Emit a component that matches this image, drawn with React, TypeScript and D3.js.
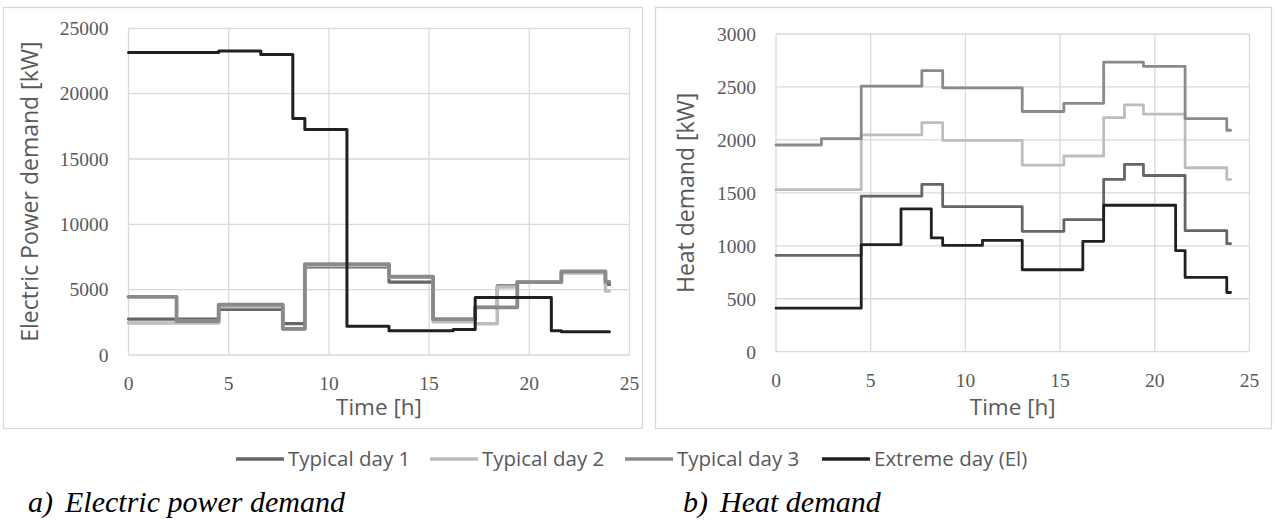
import React, { useEffect, useRef } from "react";
import * as d3 from "d3";

// step boundaries of the day profile [h]
const hours = [0, 2.4, 4.5, 6.6, 7.7, 8.2, 8.8, 10.9, 13, 15.2, 16.2, 17.3, 18.4, 19.4, 21.1, 21.6, 23.8, 24];

const seriesNames = ["Typical day 1", "Typical day 2", "Typical day 3", "Extreme day (El)"];
const seriesColors = ["#666666", "#bdbdbd", "#8a8a8a", "#202020"];

// electric power demand [kW], one value per interval
const elDay1 = [2750, 2750, 3480, 3480, 2400, 2400, 6750, 6750, 5580, 2700, 2700, 3650, 5300, 5550, 5550, 6300, 5400];
const elDay2 = [2450, 2450, 3700, 3700, 2000, 2000, 6850, 6850, 5950, 2550, 2550, 2400, 5200, 5600, 5600, 6300, 4900];
const elDay3 = [4450, 2600, 3850, 3850, 2000, 2000, 6950, 6950, 6000, 2750, 2750, 3650, 3650, 5580, 5580, 6400, 5600];
const elExtreme = [23150, 23150, 23270, 23000, 23000, 18100, 17250, 2200, 1850, 1850, 1950, 4400, 4400, 4400, 1850, 1780, 1780];

// heat demand [kW]
const heatDay1 = [910, 910, 1470, 1470, 1580, 1580, 1370, 1370, 1137, 1248, 1248, 1627, 1769, 1664, 1664, 1143, 1020];
const heatDay2 = [1530, 1530, 2047, 2047, 2164, 2164, 1996, 1996, 1762, 1848, 1848, 2211, 2331, 2243, 2243, 1737, 1627];
const heatDay3 = [1952, 2012, 2508, 2508, 2655, 2655, 2492, 2492, 2268, 2345, 2345, 2735, 2735, 2695, 2695, 2200, 2091];
const heatExtreme = [411, 411, 1011, 1349, 1349, 1074, 1004, 1052, 774, 774, 1042, 1383, 1383, 1383, 954, 701, 559];

const xTicks = [0, 5, 10, 15, 20, 25];
const elTicks = [0, 5000, 10000, 15000, 20000, 25000];
const heatTicks = [0, 500, 1000, 1500, 2000, 2500, 3000];

const gridColor = "#d9d9d9";
const textColor = "#595959";
const serif = "'Liberation Serif', 'Times New Roman', serif";
const sans = "'Open Sans', Lato, sans-serif";

function drawChart(svg, cfg) {
  const x = d3.scaleLinear().domain([0, 25]).range([cfg.x0, cfg.x1]);
  const y = d3.scaleLinear().domain([0, cfg.max]).range([cfg.yBot, cfg.yTop]);
  const g = svg.append("g");

  // grid
  g.selectAll(".hgrid")
    .data(cfg.yTicks)
    .join("line")
    .attr("x1", cfg.x0).attr("x2", cfg.x1)
    .attr("y1", d => y(d)).attr("y2", d => y(d))
    .attr("stroke", gridColor).attr("stroke-width", 1.3);
  g.selectAll(".vgrid")
    .data(xTicks)
    .join("line")
    .attr("x1", d => x(d)).attr("x2", d => x(d))
    .attr("y1", cfg.yBot).attr("y2", cfg.yTop)
    .attr("stroke", gridColor).attr("stroke-width", 1.3);

  // tick labels
  g.selectAll(".ylab")
    .data(cfg.yTicks)
    .join("text")
    .attr("x", cfg.x0 - 20)
    .attr("y", d => y(d))
    .attr("dy", "0.35em")
    .attr("text-anchor", "end")
    .attr("font-family", serif)
    .attr("font-size", 19.5)
    .attr("fill", textColor)
    .text(d => d);
  g.selectAll(".xlab")
    .data(xTicks)
    .join("text")
    .attr("x", d => x(d))
    .attr("y", cfg.yBot + 28)
    .attr("dy", "0.35em")
    .attr("text-anchor", "middle")
    .attr("font-family", serif)
    .attr("font-size", 19.5)
    .attr("fill", textColor)
    .text(d => d);

  // axis titles
  g.append("text")
    .attr("x", (cfg.x0 + cfg.x1) / 2)
    .attr("y", 415)
    .attr("text-anchor", "middle")
    .attr("font-family", sans)
    .attr("font-size", 22.5)
    .attr("fill", textColor)
    .text("Time [h]");
  g.append("text")
    .attr("transform", `translate(${cfg.titleX}, ${(cfg.yTop + cfg.yBot) / 2}) rotate(-90)`)
    .attr("text-anchor", "middle")
    .attr("dy", "0.35em")
    .attr("font-family", sans)
    .attr("font-size", 23)
    .attr("fill", textColor)
    .text(cfg.title);

  const line = d3.line()
    .x(d => x(d[0]))
    .y(d => y(d[1]))
    .curve(d3.curveStepAfter);

  cfg.series.forEach((vals, i) => {
    const pts = vals.map((v, k) => [hours[k], v]);
    pts.push([hours[hours.length - 1], vals[vals.length - 1]]);
    g.append("path")
      .attr("d", line(pts))
      .attr("fill", "none")
      .attr("stroke", seriesColors[i])
      .attr("stroke-width", cfg.widths[i])
      .attr("stroke-linejoin", "round")
      .attr("stroke-linecap", "round");
  });
}

export default function App() {
  const ref = useRef(null);

  useEffect(() => {
    const svg = d3.select(ref.current);
    svg.selectAll("*").remove();

    svg.append("rect").attr("width", 1275).attr("height", 520).attr("fill", "#fff");

    // chart frames
    svg.append("rect")
      .attr("x", 3.5).attr("y", 7.5).attr("width", 639).attr("height", 421)
      .attr("fill", "none").attr("stroke", gridColor).attr("stroke-width", 1.3);
    svg.append("rect")
      .attr("x", 655.5).attr("y", 7.5).attr("width", 616).attr("height", 421)
      .attr("fill", "none").attr("stroke", gridColor).attr("stroke-width", 1.3);

    drawChart(svg, {
      x0: 128.5, x1: 629.5, yTop: 28.3, yBot: 355,
      max: 25000, yTicks: elTicks, titleX: 30,
      title: "Electric Power demand [kW]",
      series: [elDay1, elDay2, elDay3, elExtreme],
      widths: [3.2, 3.5, 3.8, 3],
    });
    drawChart(svg, {
      x0: 776, x1: 1249.5, yTop: 34, yBot: 351.7,
      max: 3000, yTicks: heatTicks, titleX: 686,
      title: "Heat demand [kW]",
      series: [heatDay1, heatDay2, heatDay3, heatExtreme],
      widths: [2.8, 2.8, 2.8, 2.8],
    });

    // legend
    const legendX = [236, 430, 625, 822];
    seriesNames.forEach((name, i) => {
      const lg = svg.append("g").attr("transform", `translate(${legendX[i]}, 459)`);
      lg.append("line")
        .attr("x1", 0).attr("x2", 48)
        .attr("stroke", seriesColors[i])
        .attr("stroke-width", 3.5);
      lg.append("text")
        .attr("x", 52)
        .attr("dy", "0.35em")
        .attr("font-family", sans)
        .attr("font-size", 20.5)
        .attr("fill", textColor)
        .text(name);
    });

    // captions
    const captions = [
      { x: 28, label: "a)", text: "Electric power demand" },
      { x: 683, label: "b)", text: "Heat demand" },
    ];
    captions.forEach(c => {
      svg.append("text")
        .attr("x", c.x).attr("y", 512)
        .attr("font-family", serif).attr("font-style", "italic")
        .attr("font-size", 30).attr("fill", "#000")
        .text(c.label);
      svg.append("text")
        .attr("x", c.x + 37).attr("y", 512)
        .attr("font-family", serif).attr("font-style", "italic")
        .attr("font-size", 30).attr("fill", "#000")
        .text(c.text);
    });
  }, []);

  return (
    <svg
      ref={ref}
      width={1275}
      height={520}
      style={{ position: "absolute", left: 0, top: 0, display: "block" }}
    />
  );
}
